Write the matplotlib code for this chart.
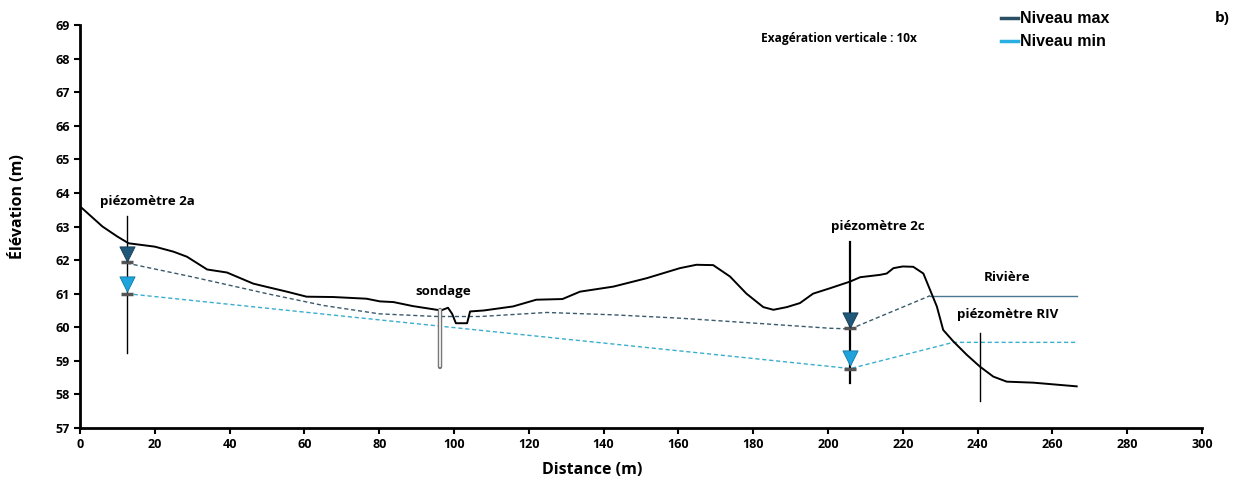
import matplotlib
matplotlib.use("Agg")
import matplotlib.pyplot as plt
from matplotlib.lines import Line2D

# ---- data ----
terrain_d = [0, 3, 6, 10, 13, 20, 25, 28.6, 34, 39.3, 46.3, 50, 55.3, 60.6, 67.7, 76.6, 80.2,
             83.8, 89, 95.4, 96.5, 98.4, 99.5, 100.5, 103.5, 104.3, 108, 115.8, 122, 129, 133.7,
             142.6, 151.5, 160.4, 164.8, 169.3, 173.8, 178.2, 182.7, 185.4, 189, 192.5, 196,
             200.5, 205.9, 208.6, 213.9, 215.7, 217.5, 220, 222.8, 225.5, 227.3, 229.1, 230.8,
             233.5, 237.1, 240.6, 244.2, 247.8, 254.9, 266.5]
terrain_z = [63.6, 63.3, 63.0, 62.7, 62.5, 62.4, 62.25, 62.1, 61.72, 61.63, 61.3, 61.2, 61.06,
             60.91, 60.9, 60.85, 60.77, 60.75, 60.63, 60.52, 60.5, 60.58, 60.4, 60.12, 60.12,
             60.47, 60.5, 60.62, 60.82, 60.84, 61.06, 61.21, 61.46, 61.76, 61.86, 61.85, 61.51,
             61.0, 60.6, 60.52, 60.6, 60.72, 61.0, 61.16, 61.36, 61.49, 61.56, 61.6, 61.76,
             61.81, 61.8, 61.6, 61.11, 60.62, 59.92, 59.58, 59.18, 58.83, 58.53, 58.38, 58.35,
             58.24]

max_d = [12.5, 30, 50, 65, 80, 95.4, 107, 124.8, 142.6, 160.4, 178, 200.5, 206, 227.3]
max_z = [61.91, 61.5, 61.0, 60.65, 60.4, 60.32, 60.32, 60.44, 60.37, 60.27, 60.14, 59.97, 59.95, 60.94]
river_d = [227.3, 266.5]
river_z = [60.94, 60.94]

min_d = [12.5, 80, 206, 233.5, 266.5]
min_z = [61.0, 60.22, 58.77, 59.55, 59.55]

piezo_names = ["piézomètre 2a", "piézomètre 2c", "piézomètre RIV"]
piezo_d = [12.5, 206, 240.6]
piezo_top = [63.3, 62.55, 59.83]
piezo_bot = [59.24, 58.33, 57.79]
piezo_label_d = [18, 213.4, 248]
piezo_label_z = [63.55, 62.82, 60.19]

tri_d = [12.5, 206]
tri_max_z = [62.18, 60.22]
tri_min_z = [61.28, 59.08]
lvl_max_z = [61.93, 59.97]
lvl_min_z = [61.0, 58.77]

sond_d = 96.3
sond_top = 60.52
sond_bot = 58.81

xticks = list(range(0, 301, 20))
yticks = list(range(57, 70))

dark = "#1f5878"
light = "#1ea3dc"
dash_dark = "#3a5a6c"
dash_light = "#3aaecd"

plt.rcParams['font.family'] = ['Open Sans', 'DejaVu Sans']

fig = plt.figure(figsize=(12.38, 4.87), dpi=100)
ax = fig.add_axes([80/1238, 1-428/487, (1202-80)/1238, (428-25)/487])

ax.plot(terrain_d, terrain_z, color="black", lw=1.4, zorder=3)
ax.plot(max_d, max_z, color=dash_dark, lw=1.0, ls=(0, (3, 2)), zorder=2)
ax.plot(river_d, river_z, color="#4a7890", lw=1.0, zorder=2)
ax.plot(min_d, min_z, color=dash_light, lw=1.0, ls=(0, (3, 2)), zorder=2)

for name, d, t, b, ld, lz in zip(piezo_names, piezo_d, piezo_top, piezo_bot, piezo_label_d, piezo_label_z):
    lw = 1.6 if name.endswith("2c") else 1.0
    ax.plot([d, d], [b, t], color="black", lw=lw, zorder=4)
    ax.text(ld, lz, name, ha="center", va="bottom", fontsize=9.6, fontweight="bold")

# water-level markers on piezometers
ax.scatter(tri_d, lvl_max_z, marker="_", s=70, linewidths=2.5, color="#555555", zorder=5)
ax.scatter(tri_d, lvl_min_z, marker="_", s=70, linewidths=2.5, color="#555555", zorder=5)
ax.scatter(tri_d, tri_max_z, marker="v", s=120, color=dark, edgecolors="#123a52", linewidths=0.6, zorder=6)
ax.scatter(tri_d, tri_min_z, marker="v", s=120, color=light, edgecolors="#1078a0", linewidths=0.6, zorder=6)

# sondage
ax.plot([sond_d, sond_d], [sond_bot, sond_top], color="#777777", lw=3.2, solid_capstyle="round", zorder=4)
ax.plot([sond_d, sond_d], [sond_bot + 0.03, sond_top], color="white", lw=1.2, zorder=4)
ax.text(97, 60.88, "sondage", ha="center", va="bottom", fontsize=9.6, fontweight="bold")
ax.text(248, 61.3, "Rivière", ha="center", va="bottom", fontsize=9.6, fontweight="bold")

ax.text(203, 68.6, "Exagération verticale : 10x", ha="center", va="center", fontsize=8.6, fontweight="bold")
fig.text(1222/1238, 1-18/487, "b)", ha="center", va="center", fontsize=11, fontweight="bold")

handles = [Line2D([], [], color="#2a4e64", lw=2.5), Line2D([], [], color="#2ab0e0", lw=2.5)]
leg = fig.legend(handles, ["Niveau max", "Niveau min"], loc="upper left",
                 bbox_to_anchor=(995/1238, 1-5/487), frameon=False, handlelength=1.05,
                 handletextpad=0.1, labelspacing=0.5, borderaxespad=0,
                 prop={"family": "Liberation Sans", "weight": "bold", "size": 11.5})

ax.set_xlim(0, 300)
ax.set_ylim(57, 69)
ax.set_xticks(xticks)
ax.set_yticks(yticks)
for s in ["top", "right"]:
    ax.spines[s].set_visible(False)
for s in ["left", "bottom"]:
    ax.spines[s].set_linewidth(2.0)
ax.tick_params(direction="out", width=1.5, length=4, labelsize=9)
for lab in ax.get_xticklabels() + ax.get_yticklabels():
    lab.set_fontweight("bold")
fig.text(592/1238, 1-470/487, "Distance (m)", ha="center", va="center", fontsize=11.5, fontweight="bold")
fig.text(18/1238, 1-207/487, "Élévation (m)", ha="center", va="center", rotation=90, fontsize=11.5, fontweight="bold")

fig.savefig("out.png", dpi=100)
